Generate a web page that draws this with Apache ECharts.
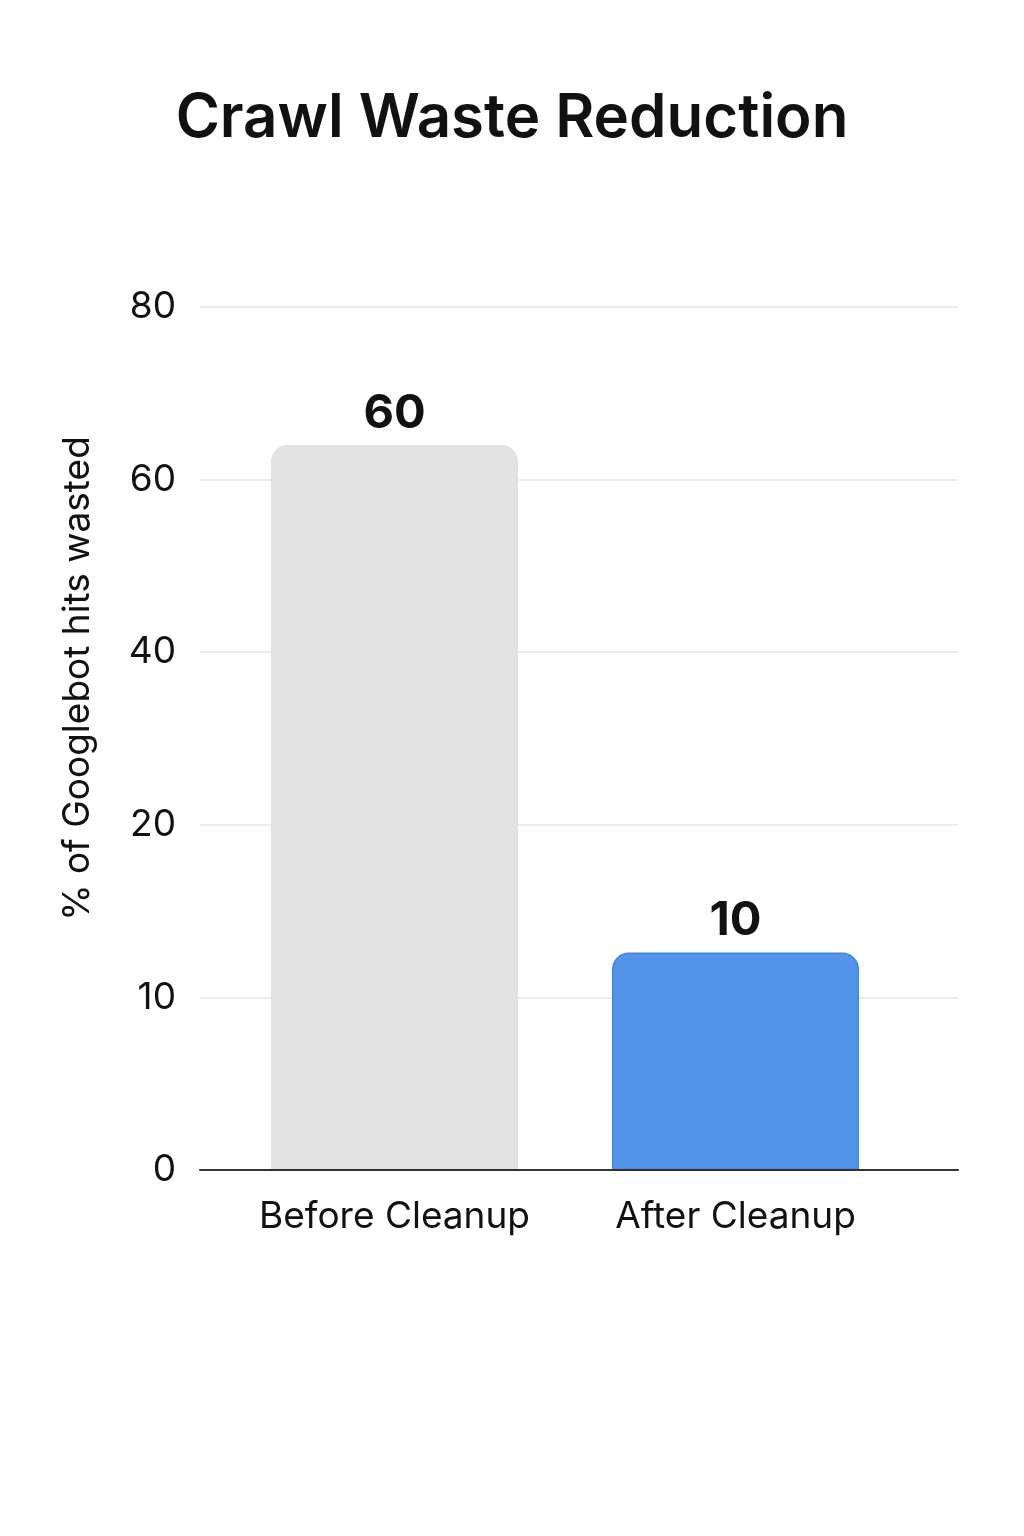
<!DOCTYPE html>
<html>
<head>
<meta charset="UTF-8">
<title>Crawl Waste Reduction</title>
<script src="https://cdn.jsdelivr.net/npm/echarts@6/dist/echarts.min.js"></script>
<style>
  html, body { margin: 0; padding: 0; background: #fff; }
  #main { width: 1024px; height: 1536px; }
</style>
</head>
<body>
<div id="main"></div>
<script type="text/javascript">
// data
var categories = ['Before Cleanup', 'After Cleanup'];
var values = [60, 10];                          // printed on top of the bars
var tickLabels = ['0', '10', '20', '40', '60', '80']; // evenly spaced ticks
// bar tops as drawn, in tick steps of the evenly spaced axis
var barLevels = [4.2, 1.26];
var barColors = ['#e3e3e3', '#5294e8'];
var barBorders = ['#e0e0e0', '#3f86e2'];

var font = 'Inter, "Noto Sans", sans-serif';
var myChart = echarts.init(document.getElementById('main'));

var option = {
    backgroundColor: '#ffffff',
    textStyle: { fontFamily: font },
    title: {
        text: 'Crawl Waste Reduction',
        left: 'center',
        top: 84,
        textStyle: { fontSize: 60, fontWeight: 600, color: '#111111', fontFamily: font }
    },
    grid: [
        // axes and gridlines
        { left: 200, right: 66, top: 307, bottom: 366 },
        // bars and category labels
        { left: 224, right: 118, top: 307, bottom: 366 }
    ],
    xAxis: [
        {
            type: 'category', gridIndex: 0, data: categories, z: 10,
            axisLine: { lineStyle: { color: '#333333', width: 2 } },
            axisTick: { show: false },
            axisLabel: { show: false }
        },
        {
            type: 'category', gridIndex: 1, data: categories,
            axisLine: { show: false },
            axisTick: { show: false },
            axisLabel: { interval: 0, fontSize: 37, color: '#111111', margin: 28, fontFamily: font }
        }
    ],
    yAxis: [
        {
            type: 'value', gridIndex: 0, min: 0, max: tickLabels.length - 1, interval: 1,
            name: '% of Googlebot hits wasted',
            nameLocation: 'middle',
            nameRotate: 90,
            nameGap: 104,
            nameTextStyle: { fontSize: 37, color: '#111111', fontFamily: font, padding: [0, 0, 0, 120] },
            axisLine: { show: false },
            axisTick: { show: false },
            axisLabel: {
                fontSize: 37, color: '#111111', margin: 24, fontFamily: font,
                formatter: function (v) { return tickLabels[v]; }
            },
            splitLine: { lineStyle: { color: '#e6e6e6', width: 1.5 } }
        },
        {
            type: 'value', gridIndex: 1, min: 0, max: tickLabels.length - 1, interval: 1,
            show: false, splitLine: { show: false }
        }
    ],
    series: [
        {
            type: 'bar',
            xAxisIndex: 1,
            yAxisIndex: 1,
            barWidth: 247,
            data: barLevels.map(function (h, i) {
                return {
                    value: h,
                    itemStyle: {
                        color: barColors[i],
                        borderColor: barBorders[i],
                        borderWidth: 1.5,
                        borderRadius: [16, 16, 0, 0]
                    }
                };
            }),
            label: {
                show: true,
                position: 'top',
                distance: 8,
                fontSize: 47,
                fontWeight: 'bold',
                color: '#111111',
                fontFamily: font,
                formatter: function (p) { return values[p.dataIndex]; }
            }
        }
    ]
};
myChart.setOption(option);
</script>
</body>
</html>
